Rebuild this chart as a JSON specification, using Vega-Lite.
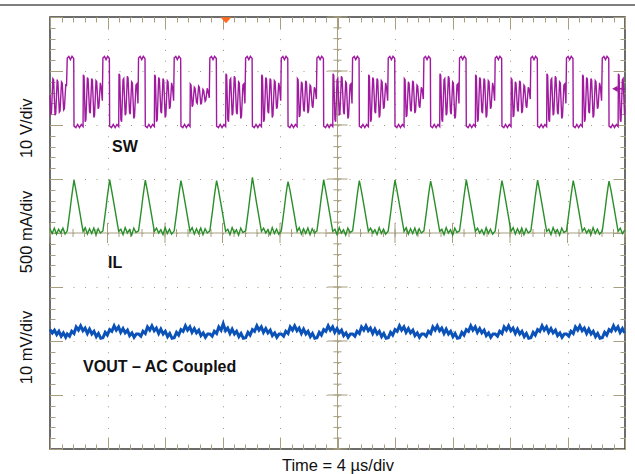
{
"$schema": "https://vega.github.io/schema/vega-lite/v6.json",
"width": 575, "height": 432,
"autosize": "none",
"padding": {"left": 50, "top": 17, "right": 10, "bottom": 25},
"background": "white",
"config": {"view": {"stroke": "#3c3c3c", "strokeWidth": 1.5}, "font": "Liberation Sans"},
"resolve": {"axis": {"x": "independent", "y": "independent"}},
"datasets": {
"mx": [{"t":0},{"t":0.8},{"t":1.6},{"t":2.4},{"t":3.2},{"t":4},{"t":4.8},{"t":5.6},{"t":6.4},{"t":7.2},{"t":8},{"t":8.8},{"t":9.6},{"t":10.4},{"t":11.2},{"t":12},{"t":12.8},{"t":13.6},{"t":14.4},{"t":15.2},{"t":16},{"t":16.8},{"t":17.6},{"t":18.4},{"t":19.2},{"t":20},{"t":20.8},{"t":21.6},{"t":22.4},{"t":23.2},{"t":24},{"t":24.8},{"t":25.6},{"t":26.4},{"t":27.2},{"t":28},{"t":28.8},{"t":29.6},{"t":30.4},{"t":31.2},{"t":32},{"t":32.8},{"t":33.6},{"t":34.4},{"t":35.2},{"t":36},{"t":36.8},{"t":37.6},{"t":38.4},{"t":39.2},{"t":40}],
"my": [{"v":0},{"v":0.2},{"v":0.4},{"v":0.6},{"v":0.8},{"v":1},{"v":1.2},{"v":1.4},{"v":1.6},{"v":1.8},{"v":2},{"v":2.2},{"v":2.4},{"v":2.6},{"v":2.8},{"v":3},{"v":3.2},{"v":3.4},{"v":3.6},{"v":3.8},{"v":4},{"v":4.2},{"v":4.4},{"v":4.6},{"v":4.8},{"v":5},{"v":5.2},{"v":5.4},{"v":5.6},{"v":5.8},{"v":6},{"v":6.2},{"v":6.4},{"v":6.6},{"v":6.8},{"v":7},{"v":7.2},{"v":7.4},{"v":7.6},{"v":7.8},{"v":8}],
"sw": [
{"t":0,"v":6.55},{"t":0.05,"v":6.2},{"t":0.1,"v":6.22},{"t":0.2,"v":6.86},{"t":0.25,"v":6.84},{"t":0.35,"v":6.18},{"t":0.4,"v":6.21},{"t":0.5,"v":6.84},{"t":0.55,"v":6.8},{"t":0.65,"v":6.24},{"t":0.7,"v":6.26},{"t":0.8,"v":6.8},{"t":0.85,"v":6.78},{"t":0.95,"v":6.28},{"t":1.0,"v":6.3},{"t":1.1,"v":6.76},{"t":1.15,"v":6.72},
{"t":1.20,"v":7.24},{"t":1.31,"v":7.27},{"t":1.42,"v":7.21},{"t":1.53,"v":7.27},{"t":1.65,"v":7.23},{"t":1.67,"v":5.98},{"t":1.80,"v":5.95},{"t":1.92,"v":6.01},{"t":2.05,"v":5.95},{"t":2.18,"v":6.01},{"t":2.30,"v":5.97},
{"t":2.32,"v":6.93},{"t":2.37,"v":6.90},{"t":2.45,"v":6.06},{"t":2.50,"v":6.10},{"t":2.60,"v":6.88},{"t":2.65,"v":6.85},{"t":2.75,"v":6.25},{"t":2.80,"v":6.22},{"t":2.90,"v":6.86},{"t":2.95,"v":6.83},{"t":3.05,"v":6.14},{"t":3.10,"v":6.18},{"t":3.20,"v":6.82},{"t":3.25,"v":6.80},{"t":3.35,"v":6.30},{"t":3.40,"v":6.33},{"t":3.50,"v":6.78},{"t":3.56,"v":6.70},{"t":3.64,"v":6.45},
{"t":3.68,"v":7.24},{"t":3.79,"v":7.27},{"t":3.90,"v":7.21},{"t":4.01,"v":7.27},{"t":4.13,"v":7.23},{"t":4.15,"v":5.98},{"t":4.28,"v":5.95},{"t":4.40,"v":6.01},{"t":4.53,"v":5.95},{"t":4.66,"v":6.01},{"t":4.78,"v":5.97},
{"t":4.80,"v":6.95},{"t":4.85,"v":6.92},{"t":4.93,"v":6.10},{"t":4.98,"v":6.06},{"t":5.08,"v":6.84},{"t":5.13,"v":6.86},{"t":5.23,"v":6.18},{"t":5.28,"v":6.21},{"t":5.38,"v":6.90},{"t":5.43,"v":6.87},{"t":5.53,"v":6.24},{"t":5.58,"v":6.20},{"t":5.68,"v":6.80},{"t":5.73,"v":6.78},{"t":5.83,"v":6.12},{"t":5.88,"v":6.16},{"t":5.98,"v":6.74},{"t":6.04,"v":6.76},{"t":6.12,"v":6.40},
{"t":6.16,"v":7.24},{"t":6.27,"v":7.27},{"t":6.38,"v":7.21},{"t":6.49,"v":7.27},{"t":6.61,"v":7.23},{"t":6.63,"v":5.98},{"t":6.76,"v":5.95},{"t":6.88,"v":6.01},{"t":7.01,"v":5.95},{"t":7.14,"v":6.01},{"t":7.26,"v":5.97},
{"t":7.28,"v":6.93},{"t":7.33,"v":6.90},{"t":7.41,"v":6.06},{"t":7.46,"v":6.10},{"t":7.56,"v":6.88},{"t":7.61,"v":6.85},{"t":7.71,"v":6.25},{"t":7.76,"v":6.22},{"t":7.86,"v":6.86},{"t":7.91,"v":6.83},{"t":8.01,"v":6.14},{"t":8.06,"v":6.18},{"t":8.16,"v":6.82},{"t":8.21,"v":6.80},{"t":8.31,"v":6.30},{"t":8.36,"v":6.33},{"t":8.46,"v":6.78},{"t":8.52,"v":6.70},{"t":8.60,"v":6.45},
{"t":8.64,"v":7.24},{"t":8.75,"v":7.27},{"t":8.86,"v":7.21},{"t":8.97,"v":7.27},{"t":9.09,"v":7.23},{"t":9.11,"v":5.98},{"t":9.24,"v":5.95},{"t":9.36,"v":6.01},{"t":9.49,"v":5.95},{"t":9.62,"v":6.01},{"t":9.74,"v":5.97},
{"t":9.76,"v":6.76},{"t":9.81,"v":6.74},{"t":9.89,"v":6.34},{"t":9.94,"v":6.37},{"t":10.04,"v":6.70},{"t":10.09,"v":6.68},{"t":10.19,"v":6.42},{"t":10.24,"v":6.40},{"t":10.34,"v":6.72},{"t":10.39,"v":6.70},{"t":10.49,"v":6.38},{"t":10.54,"v":6.41},{"t":10.64,"v":6.66},{"t":10.69,"v":6.64},{"t":10.79,"v":6.44},{"t":10.84,"v":6.46},{"t":10.94,"v":6.68},{"t":11.00,"v":6.62},{"t":11.08,"v":6.50},
{"t":11.12,"v":7.24},{"t":11.23,"v":7.27},{"t":11.34,"v":7.21},{"t":11.45,"v":7.27},{"t":11.57,"v":7.23},{"t":11.59,"v":5.98},{"t":11.72,"v":5.95},{"t":11.84,"v":6.01},{"t":11.97,"v":5.95},{"t":12.10,"v":6.01},{"t":12.22,"v":5.97},
{"t":12.24,"v":6.95},{"t":12.29,"v":6.92},{"t":12.37,"v":6.10},{"t":12.42,"v":6.06},{"t":12.52,"v":6.84},{"t":12.57,"v":6.86},{"t":12.67,"v":6.18},{"t":12.72,"v":6.21},{"t":12.82,"v":6.90},{"t":12.87,"v":6.87},{"t":12.97,"v":6.24},{"t":13.02,"v":6.20},{"t":13.12,"v":6.80},{"t":13.17,"v":6.78},{"t":13.27,"v":6.12},{"t":13.32,"v":6.16},{"t":13.42,"v":6.74},{"t":13.48,"v":6.76},{"t":13.56,"v":6.40},
{"t":13.61,"v":7.24},{"t":13.72,"v":7.27},{"t":13.83,"v":7.21},{"t":13.94,"v":7.27},{"t":14.06,"v":7.23},{"t":14.08,"v":5.98},{"t":14.21,"v":5.95},{"t":14.33,"v":6.01},{"t":14.46,"v":5.95},{"t":14.59,"v":6.01},{"t":14.71,"v":5.97},
{"t":14.73,"v":6.93},{"t":14.78,"v":6.90},{"t":14.86,"v":6.06},{"t":14.91,"v":6.10},{"t":15.01,"v":6.88},{"t":15.06,"v":6.85},{"t":15.16,"v":6.25},{"t":15.21,"v":6.22},{"t":15.31,"v":6.86},{"t":15.36,"v":6.83},{"t":15.46,"v":6.14},{"t":15.51,"v":6.18},{"t":15.61,"v":6.82},{"t":15.66,"v":6.80},{"t":15.76,"v":6.30},{"t":15.81,"v":6.33},{"t":15.91,"v":6.78},{"t":15.97,"v":6.70},{"t":16.05,"v":6.45},
{"t":16.09,"v":7.24},{"t":16.20,"v":7.27},{"t":16.31,"v":7.21},{"t":16.42,"v":7.27},{"t":16.54,"v":7.23},{"t":16.56,"v":5.98},{"t":16.69,"v":5.95},{"t":16.81,"v":6.01},{"t":16.94,"v":5.95},{"t":17.07,"v":6.01},{"t":17.19,"v":5.97},
{"t":17.21,"v":6.86},{"t":17.26,"v":6.84},{"t":17.34,"v":6.15},{"t":17.39,"v":6.18},{"t":17.49,"v":6.80},{"t":17.54,"v":6.77},{"t":17.64,"v":6.28},{"t":17.69,"v":6.25},{"t":17.79,"v":6.82},{"t":17.84,"v":6.79},{"t":17.94,"v":6.22},{"t":17.99,"v":6.26},{"t":18.09,"v":6.74},{"t":18.14,"v":6.72},{"t":18.24,"v":6.35},{"t":18.29,"v":6.32},{"t":18.39,"v":6.70},{"t":18.45,"v":6.66},{"t":18.53,"v":6.48},
{"t":18.57,"v":7.24},{"t":18.68,"v":7.27},{"t":18.79,"v":7.21},{"t":18.90,"v":7.27},{"t":19.02,"v":7.23},{"t":19.04,"v":5.98},{"t":19.17,"v":5.95},{"t":19.29,"v":6.01},{"t":19.42,"v":5.95},{"t":19.55,"v":6.01},{"t":19.67,"v":5.97},
{"t":19.69,"v":6.95},{"t":19.74,"v":6.92},{"t":19.82,"v":6.10},{"t":19.87,"v":6.06},{"t":19.97,"v":6.84},{"t":20.02,"v":6.86},{"t":20.12,"v":6.18},{"t":20.17,"v":6.21},{"t":20.27,"v":6.90},{"t":20.32,"v":6.87},{"t":20.42,"v":6.24},{"t":20.47,"v":6.20},{"t":20.57,"v":6.80},{"t":20.62,"v":6.78},{"t":20.72,"v":6.12},{"t":20.77,"v":6.16},{"t":20.87,"v":6.74},{"t":20.93,"v":6.76},{"t":21.01,"v":6.40},
{"t":21.05,"v":7.24},{"t":21.16,"v":7.27},{"t":21.27,"v":7.21},{"t":21.38,"v":7.27},{"t":21.50,"v":7.23},{"t":21.52,"v":5.98},{"t":21.65,"v":5.95},{"t":21.77,"v":6.01},{"t":21.90,"v":5.95},{"t":22.03,"v":6.01},{"t":22.15,"v":5.97},
{"t":22.17,"v":6.93},{"t":22.22,"v":6.90},{"t":22.30,"v":6.06},{"t":22.35,"v":6.10},{"t":22.45,"v":6.88},{"t":22.50,"v":6.85},{"t":22.60,"v":6.25},{"t":22.65,"v":6.22},{"t":22.75,"v":6.86},{"t":22.80,"v":6.83},{"t":22.90,"v":6.14},{"t":22.95,"v":6.18},{"t":23.05,"v":6.82},{"t":23.10,"v":6.80},{"t":23.20,"v":6.30},{"t":23.25,"v":6.33},{"t":23.35,"v":6.78},{"t":23.41,"v":6.70},{"t":23.49,"v":6.45},
{"t":23.53,"v":7.24},{"t":23.64,"v":7.27},{"t":23.75,"v":7.21},{"t":23.86,"v":7.27},{"t":23.98,"v":7.23},{"t":24.00,"v":5.98},{"t":24.13,"v":5.95},{"t":24.25,"v":6.01},{"t":24.38,"v":5.95},{"t":24.51,"v":6.01},{"t":24.63,"v":5.97},
{"t":24.65,"v":6.86},{"t":24.70,"v":6.84},{"t":24.78,"v":6.15},{"t":24.83,"v":6.18},{"t":24.93,"v":6.80},{"t":24.98,"v":6.77},{"t":25.08,"v":6.28},{"t":25.13,"v":6.25},{"t":25.23,"v":6.82},{"t":25.28,"v":6.79},{"t":25.38,"v":6.22},{"t":25.43,"v":6.26},{"t":25.53,"v":6.74},{"t":25.58,"v":6.72},{"t":25.68,"v":6.35},{"t":25.73,"v":6.32},{"t":25.83,"v":6.70},{"t":25.89,"v":6.66},{"t":25.97,"v":6.48},
{"t":26.01,"v":7.24},{"t":26.12,"v":7.27},{"t":26.23,"v":7.21},{"t":26.34,"v":7.27},{"t":26.46,"v":7.23},{"t":26.48,"v":5.98},{"t":26.61,"v":5.95},{"t":26.73,"v":6.01},{"t":26.86,"v":5.95},{"t":26.99,"v":6.01},{"t":27.11,"v":5.97},
{"t":27.13,"v":6.95},{"t":27.18,"v":6.92},{"t":27.26,"v":6.10},{"t":27.31,"v":6.06},{"t":27.41,"v":6.84},{"t":27.46,"v":6.86},{"t":27.56,"v":6.18},{"t":27.61,"v":6.21},{"t":27.71,"v":6.90},{"t":27.76,"v":6.87},{"t":27.86,"v":6.24},{"t":27.91,"v":6.20},{"t":28.01,"v":6.80},{"t":28.06,"v":6.78},{"t":28.16,"v":6.12},{"t":28.21,"v":6.16},{"t":28.31,"v":6.74},{"t":28.37,"v":6.76},{"t":28.45,"v":6.40},
{"t":28.49,"v":7.24},{"t":28.60,"v":7.27},{"t":28.71,"v":7.21},{"t":28.82,"v":7.27},{"t":28.94,"v":7.23},{"t":28.96,"v":5.98},{"t":29.09,"v":5.95},{"t":29.21,"v":6.01},{"t":29.34,"v":5.95},{"t":29.47,"v":6.01},{"t":29.59,"v":5.97},
{"t":29.61,"v":6.93},{"t":29.66,"v":6.90},{"t":29.74,"v":6.06},{"t":29.79,"v":6.10},{"t":29.89,"v":6.88},{"t":29.94,"v":6.85},{"t":30.04,"v":6.25},{"t":30.09,"v":6.22},{"t":30.19,"v":6.86},{"t":30.24,"v":6.83},{"t":30.34,"v":6.14},{"t":30.39,"v":6.18},{"t":30.49,"v":6.82},{"t":30.54,"v":6.80},{"t":30.64,"v":6.30},{"t":30.69,"v":6.33},{"t":30.79,"v":6.78},{"t":30.85,"v":6.70},{"t":30.93,"v":6.45},
{"t":30.97,"v":7.24},{"t":31.08,"v":7.27},{"t":31.19,"v":7.21},{"t":31.30,"v":7.27},{"t":31.42,"v":7.23},{"t":31.44,"v":5.98},{"t":31.57,"v":5.95},{"t":31.69,"v":6.01},{"t":31.82,"v":5.95},{"t":31.95,"v":6.01},{"t":32.07,"v":5.97},
{"t":32.09,"v":6.86},{"t":32.14,"v":6.84},{"t":32.22,"v":6.15},{"t":32.27,"v":6.18},{"t":32.37,"v":6.80},{"t":32.42,"v":6.77},{"t":32.52,"v":6.28},{"t":32.57,"v":6.25},{"t":32.67,"v":6.82},{"t":32.72,"v":6.79},{"t":32.82,"v":6.22},{"t":32.87,"v":6.26},{"t":32.97,"v":6.74},{"t":33.02,"v":6.72},{"t":33.12,"v":6.35},{"t":33.17,"v":6.32},{"t":33.27,"v":6.70},{"t":33.33,"v":6.66},{"t":33.41,"v":6.48},
{"t":33.45,"v":7.24},{"t":33.56,"v":7.27},{"t":33.67,"v":7.21},{"t":33.78,"v":7.27},{"t":33.90,"v":7.23},{"t":33.92,"v":5.98},{"t":34.05,"v":5.95},{"t":34.17,"v":6.01},{"t":34.30,"v":5.95},{"t":34.43,"v":6.01},{"t":34.55,"v":5.97},
{"t":34.57,"v":6.95},{"t":34.62,"v":6.92},{"t":34.70,"v":6.10},{"t":34.75,"v":6.06},{"t":34.85,"v":6.84},{"t":34.90,"v":6.86},{"t":35.00,"v":6.18},{"t":35.05,"v":6.21},{"t":35.15,"v":6.90},{"t":35.20,"v":6.87},{"t":35.30,"v":6.24},{"t":35.35,"v":6.20},{"t":35.45,"v":6.80},{"t":35.50,"v":6.78},{"t":35.60,"v":6.12},{"t":35.65,"v":6.16},{"t":35.75,"v":6.74},{"t":35.81,"v":6.76},{"t":35.89,"v":6.40},
{"t":35.93,"v":7.24},{"t":36.04,"v":7.27},{"t":36.15,"v":7.21},{"t":36.26,"v":7.27},{"t":36.38,"v":7.23},{"t":36.40,"v":5.98},{"t":36.53,"v":5.95},{"t":36.65,"v":6.01},{"t":36.78,"v":5.95},{"t":36.91,"v":6.01},{"t":37.03,"v":5.97},
{"t":37.05,"v":6.93},{"t":37.10,"v":6.90},{"t":37.18,"v":6.06},{"t":37.23,"v":6.10},{"t":37.33,"v":6.88},{"t":37.38,"v":6.85},{"t":37.48,"v":6.25},{"t":37.53,"v":6.22},{"t":37.63,"v":6.86},{"t":37.68,"v":6.83},{"t":37.78,"v":6.14},{"t":37.83,"v":6.18},{"t":37.93,"v":6.82},{"t":37.98,"v":6.80},{"t":38.08,"v":6.30},{"t":38.13,"v":6.33},{"t":38.23,"v":6.78},{"t":38.29,"v":6.70},{"t":38.37,"v":6.45},
{"t":38.42,"v":7.24},{"t":38.53,"v":7.27},{"t":38.64,"v":7.21},{"t":38.75,"v":7.27},{"t":38.87,"v":7.23},{"t":38.89,"v":5.98},{"t":39.02,"v":5.95},{"t":39.14,"v":6.01},{"t":39.27,"v":5.95},{"t":39.40,"v":6.01},{"t":39.52,"v":5.97},
{"t":39.54,"v":6.95},{"t":39.59,"v":6.92},{"t":39.67,"v":6.10},{"t":39.72,"v":6.06},{"t":39.82,"v":6.84},{"t":39.87,"v":6.86},{"t":39.97,"v":6.18},{"t":40,"v":6.2}
],
"il": [
{"t":0,"v":4.08},{"t":0.15,"v":3.99},{"t":0.30,"v":4.09},{"t":0.45,"v":3.98},{"t":0.60,"v":4.07},{"t":0.75,"v":4.00},{"t":0.90,"v":4.09},{"t":1.05,"v":3.98},
{"t":1.20,"v":4.04},{"t":1.30,"v":4.24},{"t":1.40,"v":4.44},{"t":1.50,"v":4.66},{"t":1.60,"v":4.85},{"t":1.67,"v":4.98},{"t":1.80,"v":4.80},{"t":1.95,"v":4.57},{"t":2.10,"v":4.34},{"t":2.22,"v":4.15},{"t":2.30,"v":4.03},{"t":2.45,"v":4.10},{"t":2.60,"v":3.98},{"t":2.75,"v":4.08},{"t":2.90,"v":3.99},{"t":3.05,"v":4.09},{"t":3.20,"v":3.97},{"t":3.35,"v":4.08},{"t":3.50,"v":4.00},
{"t":3.68,"v":4.04},{"t":3.78,"v":4.24},{"t":3.88,"v":4.44},{"t":3.98,"v":4.66},{"t":4.08,"v":4.85},{"t":4.15,"v":4.99},{"t":4.28,"v":4.80},{"t":4.43,"v":4.57},{"t":4.58,"v":4.34},{"t":4.70,"v":4.15},{"t":4.78,"v":4.03},{"t":4.93,"v":4.07},{"t":5.08,"v":3.97},{"t":5.23,"v":4.10},{"t":5.38,"v":4.00},{"t":5.53,"v":4.06},{"t":5.68,"v":3.96},{"t":5.83,"v":4.09},{"t":5.98,"v":4.01},
{"t":6.16,"v":4.04},{"t":6.26,"v":4.24},{"t":6.36,"v":4.44},{"t":6.46,"v":4.66},{"t":6.56,"v":4.85},{"t":6.63,"v":4.98},{"t":6.76,"v":4.80},{"t":6.91,"v":4.57},{"t":7.06,"v":4.34},{"t":7.18,"v":4.15},{"t":7.26,"v":4.03},{"t":7.41,"v":4.09},{"t":7.56,"v":4.00},{"t":7.71,"v":4.06},{"t":7.86,"v":3.97},{"t":8.01,"v":4.10},{"t":8.16,"v":3.99},{"t":8.31,"v":4.07},{"t":8.46,"v":3.98},
{"t":8.64,"v":4.04},{"t":8.74,"v":4.24},{"t":8.84,"v":4.44},{"t":8.94,"v":4.66},{"t":9.04,"v":4.85},{"t":9.11,"v":4.97},{"t":9.24,"v":4.80},{"t":9.39,"v":4.57},{"t":9.54,"v":4.34},{"t":9.66,"v":4.15},{"t":9.74,"v":4.03},{"t":9.89,"v":4.10},{"t":10.04,"v":3.98},{"t":10.19,"v":4.08},{"t":10.34,"v":3.99},{"t":10.49,"v":4.09},{"t":10.64,"v":3.97},{"t":10.79,"v":4.08},{"t":10.94,"v":4.00},
{"t":11.12,"v":4.04},{"t":11.22,"v":4.24},{"t":11.32,"v":4.44},{"t":11.42,"v":4.66},{"t":11.52,"v":4.85},{"t":11.59,"v":4.97},{"t":11.72,"v":4.80},{"t":11.87,"v":4.57},{"t":12.02,"v":4.34},{"t":12.14,"v":4.15},{"t":12.22,"v":4.03},{"t":12.37,"v":4.07},{"t":12.52,"v":3.97},{"t":12.67,"v":4.10},{"t":12.82,"v":4.00},{"t":12.97,"v":4.06},{"t":13.12,"v":3.96},{"t":13.27,"v":4.09},{"t":13.42,"v":4.01},
{"t":13.61,"v":4.04},{"t":13.71,"v":4.24},{"t":13.81,"v":4.44},{"t":13.91,"v":4.66},{"t":14.01,"v":4.87},{"t":14.08,"v":5.03},{"t":14.21,"v":4.82},{"t":14.36,"v":4.57},{"t":14.51,"v":4.34},{"t":14.63,"v":4.15},{"t":14.71,"v":4.03},{"t":14.86,"v":4.09},{"t":15.01,"v":4.00},{"t":15.16,"v":4.06},{"t":15.31,"v":3.97},{"t":15.46,"v":4.10},{"t":15.61,"v":3.99},{"t":15.76,"v":4.07},{"t":15.91,"v":3.98},
{"t":16.09,"v":4.04},{"t":16.19,"v":4.24},{"t":16.29,"v":4.44},{"t":16.39,"v":4.66},{"t":16.49,"v":4.85},{"t":16.56,"v":4.95},{"t":16.69,"v":4.80},{"t":16.84,"v":4.57},{"t":16.99,"v":4.34},{"t":17.11,"v":4.15},{"t":17.19,"v":4.03},{"t":17.34,"v":4.10},{"t":17.49,"v":3.98},{"t":17.64,"v":4.08},{"t":17.79,"v":3.99},{"t":17.94,"v":4.09},{"t":18.09,"v":3.97},{"t":18.24,"v":4.08},{"t":18.39,"v":4.00},
{"t":18.57,"v":4.04},{"t":18.67,"v":4.24},{"t":18.77,"v":4.44},{"t":18.87,"v":4.66},{"t":18.97,"v":4.85},{"t":19.04,"v":4.99},{"t":19.17,"v":4.80},{"t":19.32,"v":4.57},{"t":19.47,"v":4.34},{"t":19.59,"v":4.15},{"t":19.67,"v":4.03},{"t":19.82,"v":4.07},{"t":19.97,"v":3.97},{"t":20.12,"v":4.10},{"t":20.27,"v":4.00},{"t":20.42,"v":4.06},{"t":20.57,"v":3.96},{"t":20.72,"v":4.09},{"t":20.87,"v":4.01},
{"t":21.05,"v":4.04},{"t":21.15,"v":4.24},{"t":21.25,"v":4.44},{"t":21.35,"v":4.66},{"t":21.45,"v":4.85},{"t":21.52,"v":4.97},{"t":21.65,"v":4.80},{"t":21.80,"v":4.57},{"t":21.95,"v":4.34},{"t":22.07,"v":4.15},{"t":22.15,"v":4.03},{"t":22.30,"v":4.09},{"t":22.45,"v":4.00},{"t":22.60,"v":4.06},{"t":22.75,"v":3.97},{"t":22.90,"v":4.10},{"t":23.05,"v":3.99},{"t":23.20,"v":4.07},{"t":23.35,"v":3.98},
{"t":23.53,"v":4.04},{"t":23.63,"v":4.24},{"t":23.73,"v":4.44},{"t":23.83,"v":4.66},{"t":23.93,"v":4.85},{"t":24.00,"v":4.98},{"t":24.13,"v":4.80},{"t":24.28,"v":4.57},{"t":24.43,"v":4.34},{"t":24.55,"v":4.15},{"t":24.63,"v":4.03},{"t":24.78,"v":4.10},{"t":24.93,"v":3.98},{"t":25.08,"v":4.08},{"t":25.23,"v":3.99},{"t":25.38,"v":4.09},{"t":25.53,"v":3.97},{"t":25.68,"v":4.08},{"t":25.83,"v":4.00},
{"t":26.01,"v":4.04},{"t":26.11,"v":4.24},{"t":26.21,"v":4.44},{"t":26.31,"v":4.66},{"t":26.41,"v":4.85},{"t":26.48,"v":4.96},{"t":26.61,"v":4.80},{"t":26.76,"v":4.57},{"t":26.91,"v":4.34},{"t":27.03,"v":4.15},{"t":27.11,"v":4.03},{"t":27.26,"v":4.07},{"t":27.41,"v":3.97},{"t":27.56,"v":4.10},{"t":27.71,"v":4.00},{"t":27.86,"v":4.06},{"t":28.01,"v":3.96},{"t":28.16,"v":4.09},{"t":28.31,"v":4.01},
{"t":28.49,"v":4.04},{"t":28.59,"v":4.24},{"t":28.69,"v":4.44},{"t":28.79,"v":4.66},{"t":28.89,"v":4.85},{"t":28.96,"v":4.99},{"t":29.09,"v":4.80},{"t":29.24,"v":4.57},{"t":29.39,"v":4.34},{"t":29.51,"v":4.15},{"t":29.59,"v":4.03},{"t":29.74,"v":4.09},{"t":29.89,"v":4.00},{"t":30.04,"v":4.06},{"t":30.19,"v":3.97},{"t":30.34,"v":4.10},{"t":30.49,"v":3.99},{"t":30.64,"v":4.07},{"t":30.79,"v":3.98},
{"t":30.97,"v":4.04},{"t":31.07,"v":4.24},{"t":31.17,"v":4.44},{"t":31.27,"v":4.66},{"t":31.37,"v":4.85},{"t":31.44,"v":4.97},{"t":31.57,"v":4.80},{"t":31.72,"v":4.57},{"t":31.87,"v":4.34},{"t":31.99,"v":4.15},{"t":32.07,"v":4.03},{"t":32.22,"v":4.10},{"t":32.37,"v":3.98},{"t":32.52,"v":4.08},{"t":32.67,"v":3.99},{"t":32.82,"v":4.09},{"t":32.97,"v":3.97},{"t":33.12,"v":4.08},{"t":33.27,"v":4.00},
{"t":33.45,"v":4.04},{"t":33.55,"v":4.24},{"t":33.65,"v":4.44},{"t":33.75,"v":4.66},{"t":33.85,"v":4.85},{"t":33.92,"v":4.98},{"t":34.05,"v":4.80},{"t":34.20,"v":4.57},{"t":34.35,"v":4.34},{"t":34.47,"v":4.15},{"t":34.55,"v":4.03},{"t":34.70,"v":4.07},{"t":34.85,"v":3.97},{"t":35.00,"v":4.10},{"t":35.15,"v":4.00},{"t":35.30,"v":4.06},{"t":35.45,"v":3.96},{"t":35.60,"v":4.09},{"t":35.75,"v":4.01},
{"t":35.93,"v":4.04},{"t":36.03,"v":4.24},{"t":36.13,"v":4.44},{"t":36.23,"v":4.66},{"t":36.33,"v":4.85},{"t":36.40,"v":4.97},{"t":36.53,"v":4.80},{"t":36.68,"v":4.57},{"t":36.83,"v":4.34},{"t":36.95,"v":4.15},{"t":37.03,"v":4.03},{"t":37.18,"v":4.09},{"t":37.33,"v":4.00},{"t":37.48,"v":4.06},{"t":37.63,"v":3.97},{"t":37.78,"v":4.10},{"t":37.93,"v":3.99},{"t":38.08,"v":4.07},{"t":38.23,"v":3.98},
{"t":38.42,"v":4.04},{"t":38.52,"v":4.24},{"t":38.62,"v":4.44},{"t":38.72,"v":4.66},{"t":38.82,"v":4.85},{"t":38.89,"v":4.96},{"t":39.02,"v":4.80},{"t":39.17,"v":4.57},{"t":39.32,"v":4.34},{"t":39.44,"v":4.15},{"t":39.52,"v":4.03},{"t":39.67,"v":4.09},{"t":39.82,"v":3.99},{"t":40,"v":4.06}
],
"vo": [
{"t":0,"v":2.21},{"t":0.16,"v":2.15},{"t":0.31,"v":2.20},{"t":0.47,"v":2.12},{"t":0.62,"v":2.18},{"t":0.78,"v":2.09},{"t":0.93,"v":2.15},{"t":1.09,"v":2.07},
{"t":1.20,"v":2.13},{"t":1.36,"v":2.09},{"t":1.51,"v":2.18},{"t":1.67,"v":2.14},{"t":1.82,"v":2.26},{"t":1.98,"v":2.20},{"t":2.13,"v":2.28},{"t":2.29,"v":2.19},{"t":2.44,"v":2.24},{"t":2.60,"v":2.14},{"t":2.75,"v":2.22},{"t":2.91,"v":2.13},{"t":3.06,"v":2.18},{"t":3.22,"v":2.08},{"t":3.37,"v":2.14},{"t":3.53,"v":2.05},
{"t":3.68,"v":2.06},{"t":3.84,"v":2.16},{"t":3.99,"v":2.11},{"t":4.15,"v":2.21},{"t":4.30,"v":2.18},{"t":4.46,"v":2.28},{"t":4.61,"v":2.20},{"t":4.77,"v":2.26},{"t":4.92,"v":2.16},{"t":5.08,"v":2.23},{"t":5.23,"v":2.15},{"t":5.39,"v":2.20},{"t":5.54,"v":2.10},{"t":5.70,"v":2.15},{"t":5.85,"v":2.07},{"t":6.01,"v":2.13},
{"t":6.16,"v":2.13},{"t":6.32,"v":2.09},{"t":6.47,"v":2.18},{"t":6.63,"v":2.14},{"t":6.78,"v":2.26},{"t":6.94,"v":2.20},{"t":7.09,"v":2.28},{"t":7.25,"v":2.19},{"t":7.40,"v":2.24},{"t":7.56,"v":2.14},{"t":7.71,"v":2.22},{"t":7.87,"v":2.13},{"t":8.02,"v":2.18},{"t":8.18,"v":2.08},{"t":8.33,"v":2.14},{"t":8.49,"v":2.05},
{"t":8.64,"v":2.06},{"t":8.80,"v":2.16},{"t":8.95,"v":2.11},{"t":9.11,"v":2.21},{"t":9.26,"v":2.18},{"t":9.42,"v":2.28},{"t":9.57,"v":2.20},{"t":9.73,"v":2.26},{"t":9.88,"v":2.16},{"t":10.04,"v":2.23},{"t":10.19,"v":2.15},{"t":10.35,"v":2.20},{"t":10.50,"v":2.10},{"t":10.66,"v":2.15},{"t":10.81,"v":2.07},{"t":10.97,"v":2.13},
{"t":11.12,"v":2.13},{"t":11.28,"v":2.09},{"t":11.43,"v":2.18},{"t":11.59,"v":2.14},{"t":11.74,"v":2.26},{"t":11.90,"v":2.20},{"t":12.05,"v":2.32},{"t":12.21,"v":2.19},{"t":12.36,"v":2.24},{"t":12.52,"v":2.14},{"t":12.67,"v":2.22},{"t":12.83,"v":2.13},{"t":12.98,"v":2.18},{"t":13.14,"v":2.08},{"t":13.29,"v":2.14},{"t":13.45,"v":2.05},
{"t":13.61,"v":2.06},{"t":13.77,"v":2.16},{"t":13.92,"v":2.11},{"t":14.08,"v":2.21},{"t":14.23,"v":2.18},{"t":14.39,"v":2.28},{"t":14.54,"v":2.20},{"t":14.70,"v":2.26},{"t":14.85,"v":2.16},{"t":15.01,"v":2.23},{"t":15.16,"v":2.15},{"t":15.32,"v":2.20},{"t":15.47,"v":2.10},{"t":15.63,"v":2.15},{"t":15.78,"v":2.07},{"t":15.94,"v":2.13},
{"t":16.09,"v":2.13},{"t":16.25,"v":2.09},{"t":16.40,"v":2.18},{"t":16.56,"v":2.14},{"t":16.71,"v":2.26},{"t":16.87,"v":2.20},{"t":17.02,"v":2.28},{"t":17.18,"v":2.19},{"t":17.33,"v":2.24},{"t":17.49,"v":2.14},{"t":17.64,"v":2.22},{"t":17.80,"v":2.13},{"t":17.95,"v":2.18},{"t":18.11,"v":2.08},{"t":18.26,"v":2.14},{"t":18.42,"v":2.05},
{"t":18.57,"v":2.06},{"t":18.73,"v":2.16},{"t":18.88,"v":2.11},{"t":19.04,"v":2.21},{"t":19.19,"v":2.18},{"t":19.35,"v":2.28},{"t":19.50,"v":2.20},{"t":19.66,"v":2.26},{"t":19.81,"v":2.16},{"t":19.97,"v":2.23},{"t":20.12,"v":2.15},{"t":20.28,"v":2.20},{"t":20.43,"v":2.10},{"t":20.59,"v":2.15},{"t":20.74,"v":2.07},{"t":20.90,"v":2.13},
{"t":21.05,"v":2.13},{"t":21.21,"v":2.09},{"t":21.36,"v":2.18},{"t":21.52,"v":2.14},{"t":21.67,"v":2.26},{"t":21.83,"v":2.20},{"t":21.98,"v":2.28},{"t":22.14,"v":2.19},{"t":22.29,"v":2.24},{"t":22.45,"v":2.14},{"t":22.60,"v":2.22},{"t":22.76,"v":2.13},{"t":22.91,"v":2.18},{"t":23.07,"v":2.08},{"t":23.22,"v":2.14},{"t":23.38,"v":2.05},
{"t":23.53,"v":2.06},{"t":23.69,"v":2.16},{"t":23.84,"v":2.11},{"t":24.00,"v":2.21},{"t":24.15,"v":2.18},{"t":24.31,"v":2.28},{"t":24.46,"v":2.20},{"t":24.62,"v":2.26},{"t":24.77,"v":2.16},{"t":24.93,"v":2.23},{"t":25.08,"v":2.15},{"t":25.24,"v":2.20},{"t":25.39,"v":2.10},{"t":25.55,"v":2.15},{"t":25.70,"v":2.07},{"t":25.86,"v":2.13},
{"t":26.01,"v":2.13},{"t":26.17,"v":2.09},{"t":26.32,"v":2.18},{"t":26.48,"v":2.14},{"t":26.63,"v":2.26},{"t":26.79,"v":2.20},{"t":26.94,"v":2.28},{"t":27.10,"v":2.19},{"t":27.25,"v":2.24},{"t":27.41,"v":2.14},{"t":27.56,"v":2.22},{"t":27.72,"v":2.13},{"t":27.87,"v":2.18},{"t":28.03,"v":2.08},{"t":28.18,"v":2.14},{"t":28.34,"v":2.05},
{"t":28.49,"v":2.06},{"t":28.65,"v":2.16},{"t":28.80,"v":2.11},{"t":28.96,"v":2.21},{"t":29.11,"v":2.18},{"t":29.27,"v":2.28},{"t":29.42,"v":2.20},{"t":29.58,"v":2.26},{"t":29.73,"v":2.16},{"t":29.89,"v":2.23},{"t":30.04,"v":2.15},{"t":30.20,"v":2.20},{"t":30.35,"v":2.10},{"t":30.51,"v":2.15},{"t":30.66,"v":2.07},{"t":30.82,"v":2.13},
{"t":30.97,"v":2.13},{"t":31.13,"v":2.09},{"t":31.28,"v":2.18},{"t":31.44,"v":2.14},{"t":31.59,"v":2.26},{"t":31.75,"v":2.20},{"t":31.90,"v":2.28},{"t":32.06,"v":2.19},{"t":32.21,"v":2.24},{"t":32.37,"v":2.14},{"t":32.52,"v":2.22},{"t":32.68,"v":2.13},{"t":32.83,"v":2.18},{"t":32.99,"v":2.08},{"t":33.14,"v":2.14},{"t":33.30,"v":2.05},
{"t":33.45,"v":2.06},{"t":33.61,"v":2.16},{"t":33.76,"v":2.11},{"t":33.92,"v":2.21},{"t":34.07,"v":2.18},{"t":34.23,"v":2.28},{"t":34.38,"v":2.20},{"t":34.54,"v":2.26},{"t":34.69,"v":2.16},{"t":34.85,"v":2.23},{"t":35.00,"v":2.15},{"t":35.16,"v":2.20},{"t":35.31,"v":2.10},{"t":35.47,"v":2.15},{"t":35.62,"v":2.07},{"t":35.78,"v":2.13},
{"t":35.93,"v":2.13},{"t":36.09,"v":2.09},{"t":36.24,"v":2.18},{"t":36.40,"v":2.14},{"t":36.55,"v":2.26},{"t":36.71,"v":2.20},{"t":36.86,"v":2.28},{"t":37.02,"v":2.19},{"t":37.17,"v":2.24},{"t":37.33,"v":2.14},{"t":37.48,"v":2.22},{"t":37.64,"v":2.13},{"t":37.79,"v":2.18},{"t":37.95,"v":2.08},{"t":38.10,"v":2.14},{"t":38.26,"v":2.05},
{"t":38.42,"v":2.06},{"t":38.58,"v":2.16},{"t":38.73,"v":2.11},{"t":38.89,"v":2.21},{"t":39.04,"v":2.18},{"t":39.20,"v":2.28},{"t":39.35,"v":2.20},{"t":39.51,"v":2.26},{"t":39.66,"v":2.16},{"t":39.82,"v":2.23},{"t":39.97,"v":2.15}
]
},
"layer": [
{"data": {"values": [{}]}, "mark": {"type": "rule", "color": "#a79f80", "strokeWidth": 1},
 "encoding": {"x": {"datum": 20, "scale": {"domain": [0, 40], "nice": false, "zero": false}, "axis": null}}},
{"data": {"values": [{}]}, "mark": {"type": "rule", "color": "#a79f80", "strokeWidth": 1},
 "encoding": {"y": {"datum": 4, "scale": {"domain": [0, 8], "nice": false, "zero": false}, "axis": null}}},
{"data": {"name": "mx"}, "mark": {"type": "rule", "color": "#a79f80", "strokeWidth": 1},
 "encoding": {"x": {"field": "t", "type": "quantitative", "scale": {"domain": [0, 40], "nice": false, "zero": false}, "axis": null},
  "y": {"datum": 3.926, "scale": {"domain": [0, 8], "nice": false, "zero": false}, "axis": null}, "y2": {"datum": 4.074}}},
{"data": {"name": "mx"}, "transform": [{"filter": "datum.t % 4 == 0"}], "mark": {"type": "rule", "color": "#a79f80", "strokeWidth": 1},
 "encoding": {"x": {"field": "t", "type": "quantitative", "scale": {"domain": [0, 40], "nice": false, "zero": false}, "axis": null},
  "y": {"datum": 3.815, "scale": {"domain": [0, 8], "nice": false, "zero": false}, "axis": null}, "y2": {"datum": 4.185}}},
{"data": {"name": "my"}, "mark": {"type": "rule", "color": "#a79f80", "strokeWidth": 1},
 "encoding": {"y": {"field": "v", "type": "quantitative", "scale": {"domain": [0, 8], "nice": false, "zero": false}, "axis": null},
  "x": {"datum": 19.72, "scale": {"domain": [0, 40], "nice": false, "zero": false}, "axis": null}, "x2": {"datum": 20.28}}},
{"data": {"name": "my"}, "transform": [{"filter": "datum.v % 1 == 0"}], "mark": {"type": "rule", "color": "#a79f80", "strokeWidth": 1},
 "encoding": {"y": {"field": "v", "type": "quantitative", "scale": {"domain": [0, 8], "nice": false, "zero": false}, "axis": null},
  "x": {"datum": 19.3, "scale": {"domain": [0, 40], "nice": false, "zero": false}, "axis": null}, "x2": {"datum": 20.7}}},
{"data": {"name": "sw"}, "mark": {"type": "line", "color": "#a01aa0", "strokeWidth": 1.4},
 "encoding": {
  "x": {"field": "t", "type": "quantitative", "scale": {"domain": [0, 40], "nice": false, "zero": false},
   "axis": {"orient": "bottom", "values": [0,0.8,1.6,2.4,3.2,4,4.8,5.6,6.4,7.2,8,8.8,9.6,10.4,11.2,12,12.8,13.6,14.4,15.2,16,16.8,17.6,18.4,19.2,20,20.8,21.6,22.4,23.2,24,24.8,25.6,26.4,27.2,28,28.8,29.6,30.4,31.2,32,32.8,33.6,34.4,35.2,36,36.8,37.6,38.4,39.2,40],
    "tickSize": {"condition": {"test": "datum.value % 4 == 0", "value": -12}, "value": -5}, "tickColor": "#a79f80", "tickWidth": 1,
    "domain": false, "labels": false, "grid": true, "gridColor": "#a09878", "gridDash": [1, 9.8], "gridWidth": 1,
    "gridOpacity": {"condition": {"test": "datum.value % 4 == 0", "value": 1}, "value": 0},
    "title": "Time = 4 µs/div", "titleFont": "Liberation Sans", "titleFontSize": 16.5, "titleFontWeight": "normal", "titleColor": "#111111", "titlePadding": 8}},
  "y": {"field": "v", "type": "quantitative", "scale": {"domain": [0, 8], "nice": false, "zero": false},
   "axis": {"orient": "left", "values": [0,0.2,0.4,0.6,0.8,1,1.2,1.4,1.6,1.8,2,2.2,2.4,2.6,2.8,3,3.2,3.4,3.6,3.8,4,4.2,4.4,4.6,4.8,5,5.2,5.4,5.6,5.8,6,6.2,6.4,6.6,6.8,7,7.2,7.4,7.6,7.8,8],
    "tickSize": {"condition": {"test": "datum.value % 1 == 0", "value": -12}, "value": -5}, "tickColor": "#a79f80", "tickWidth": 1,
    "domain": false, "labels": false, "grid": true, "gridColor": "#a09878", "gridDash": [1, 10.5], "gridWidth": 1,
    "gridOpacity": {"condition": {"test": "datum.value % 1 == 0", "value": 1}, "value": 0},
    "title": null}}}},
{"data": {"name": "il"}, "mark": {"type": "line", "color": "#2a8f2a", "strokeWidth": 1.4},
 "encoding": {
  "x": {"field": "t", "type": "quantitative", "scale": {"domain": [0, 40], "nice": false, "zero": false},
   "axis": {"orient": "top", "values": [0,0.8,1.6,2.4,3.2,4,4.8,5.6,6.4,7.2,8,8.8,9.6,10.4,11.2,12,12.8,13.6,14.4,15.2,16,16.8,17.6,18.4,19.2,20,20.8,21.6,22.4,23.2,24,24.8,25.6,26.4,27.2,28,28.8,29.6,30.4,31.2,32,32.8,33.6,34.4,35.2,36,36.8,37.6,38.4,39.2,40],
    "tickSize": {"condition": {"test": "datum.value % 4 == 0", "value": -12}, "value": -5}, "tickColor": "#a79f80", "tickWidth": 1,
    "domain": false, "labels": false, "grid": false, "title": null}},
  "y": {"field": "v", "type": "quantitative", "scale": {"domain": [0, 8], "nice": false, "zero": false},
   "axis": {"orient": "right", "values": [0,0.2,0.4,0.6,0.8,1,1.2,1.4,1.6,1.8,2,2.2,2.4,2.6,2.8,3,3.2,3.4,3.6,3.8,4,4.2,4.4,4.6,4.8,5,5.2,5.4,5.6,5.8,6,6.2,6.4,6.6,6.8,7,7.2,7.4,7.6,7.8,8],
    "tickSize": {"condition": {"test": "datum.value % 1 == 0", "value": -12}, "value": -5}, "tickColor": "#a79f80", "tickWidth": 1,
    "domain": false, "labels": false, "grid": false, "title": null}}}},
{"data": {"name": "vo"}, "mark": {"type": "line", "color": "#0b52b8", "strokeWidth": 3},
 "encoding": {
  "x": {"field": "t", "type": "quantitative", "scale": {"domain": [0, 40], "nice": false, "zero": false}, "axis": null},
  "y": {"field": "v", "type": "quantitative", "scale": {"domain": [0, 8], "nice": false, "zero": false}, "axis": null}}},
{"data": {"values": [{}]}, "mark": {"type": "text", "text": "SW", "font": "Liberation Sans", "fontSize": 16, "fontWeight": "bold", "align": "left", "baseline": "alphabetic", "color": "#111111"},
 "encoding": {"x": {"datum": 4.31, "scale": {"domain": [0, 40], "nice": false, "zero": false}, "axis": null}, "y": {"datum": 5.5, "scale": {"domain": [0, 8], "nice": false, "zero": false}, "axis": null}}},
{"data": {"values": [{}]}, "mark": {"type": "text", "text": "IL", "font": "Liberation Sans", "fontSize": 16, "fontWeight": "bold", "align": "left", "baseline": "alphabetic", "color": "#111111"},
 "encoding": {"x": {"datum": 4.03, "scale": {"domain": [0, 40], "nice": false, "zero": false}, "axis": null}, "y": {"datum": 3.35, "scale": {"domain": [0, 8], "nice": false, "zero": false}, "axis": null}}},
{"data": {"values": [{}]}, "mark": {"type": "text", "text": "VOUT – AC Coupled", "font": "Liberation Sans", "fontSize": 16, "fontWeight": "bold", "align": "left", "baseline": "alphabetic", "color": "#111111"},
 "encoding": {"x": {"datum": 2.3, "scale": {"domain": [0, 40], "nice": false, "zero": false}, "axis": null}, "y": {"datum": 1.43, "scale": {"domain": [0, 8], "nice": false, "zero": false}, "axis": null}}},
{"data": {"values": [{}]}, "mark": {"type": "text", "text": "10 V/div", "font": "Liberation Sans", "fontSize": 16.5, "angle": 270, "align": "center", "baseline": "alphabetic", "color": "#111111"},
 "encoding": {"x": {"datum": -1.22, "scale": {"domain": [0, 40], "nice": false, "zero": false}, "axis": null}, "y": {"datum": 5.94, "scale": {"domain": [0, 8], "nice": false, "zero": false}, "axis": null}}},
{"data": {"values": [{}]}, "mark": {"type": "text", "text": "500 mA/div", "font": "Liberation Sans", "fontSize": 16.5, "angle": 270, "align": "center", "baseline": "alphabetic", "color": "#111111"},
 "encoding": {"x": {"datum": -1.22, "scale": {"domain": [0, 40], "nice": false, "zero": false}, "axis": null}, "y": {"datum": 4.02, "scale": {"domain": [0, 8], "nice": false, "zero": false}, "axis": null}}},
{"data": {"values": [{}]}, "mark": {"type": "text", "text": "10 mV/div", "font": "Liberation Sans", "fontSize": 16.5, "angle": 270, "align": "center", "baseline": "alphabetic", "color": "#111111"},
 "encoding": {"x": {"datum": -1.22, "scale": {"domain": [0, 40], "nice": false, "zero": false}, "axis": null}, "y": {"datum": 1.88, "scale": {"domain": [0, 8], "nice": false, "zero": false}, "axis": null}}},
{"data": {"values": [{}]}, "mark": {"type": "rule", "color": "#555555", "strokeWidth": 1.6},
 "encoding": {"x": {"datum": -3.48, "scale": {"domain": [0, 40], "nice": false, "zero": false}, "axis": null}, "x2": {"datum": 40.7}, "y": {"datum": 8.222, "scale": {"domain": [0, 8], "nice": false, "zero": false}, "axis": null}}},
{"data": {"values": [{}]}, "mark": {"type": "point", "shape": "M-1,-0.55L1,-0.55L0,0.55Z", "filled": true, "color": "#ff6a1f", "size": 121, "opacity": 1},
 "encoding": {"x": {"datum": 12.24, "scale": {"domain": [0, 40], "nice": false, "zero": false}, "axis": null}, "y": {"datum": 7.94, "scale": {"domain": [0, 8], "nice": false, "zero": false}, "axis": null}}},
{"data": {"values": [{}]}, "mark": {"type": "rule", "color": "#a01aa0", "strokeWidth": 1.5},
 "encoding": {"x": {"datum": 39.3, "scale": {"domain": [0, 40], "nice": false, "zero": false}, "axis": null}, "x2": {"datum": 40}, "y": {"datum": 6.67, "scale": {"domain": [0, 8], "nice": false, "zero": false}, "axis": null}}},
{"data": {"values": [{}]}, "mark": {"type": "point", "shape": "triangle-left", "filled": true, "color": "#a01aa0", "size": 40, "opacity": 1},
 "encoding": {"x": {"datum": 39.3, "scale": {"domain": [0, 40], "nice": false, "zero": false}, "axis": null}, "y": {"datum": 6.67, "scale": {"domain": [0, 8], "nice": false, "zero": false}, "axis": null}}}
]
}
